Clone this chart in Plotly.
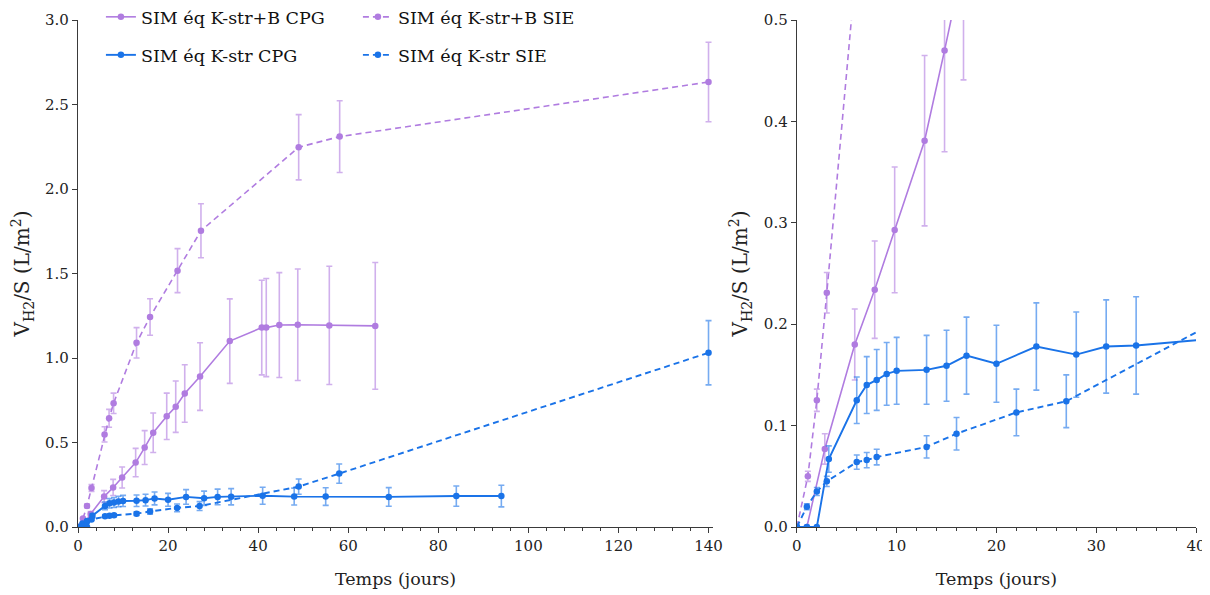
import plotly.graph_objects as go

# ---------------- data ----------------
# SIM éq K-str+B CPG (purple, solid)
kb_cpg_days = [0, 1, 2.8, 5.8, 7.8, 9.8, 12.8, 14.8, 16.7, 19.7, 21.7, 23.7, 27.1, 33.7, 40.8, 41.8, 44.7, 48.8, 55.8, 66.0]
kb_cpg_vals = [0, 0, 0.077, 0.18, 0.234, 0.293, 0.381, 0.47, 0.558, 0.655, 0.712, 0.79, 0.89, 1.10, 1.18, 1.18, 1.195, 1.197, 1.193, 1.19]
kb_cpg_err = [0, 0, 0.015, 0.035, 0.048, 0.062, 0.084, 0.10, 0.117, 0.137, 0.152, 0.17, 0.20, 0.25, 0.28, 0.29, 0.31, 0.33, 0.35, 0.375]

# SIM éq K-str+B SIE (purple, dashed)
kb_sie_days = [0, 1.1, 2.0, 3.0, 5.9, 6.9, 7.9, 13.0, 16.0, 22.1, 27.3, 49.0, 58.1, 140]
kb_sie_vals = [0, 0.05, 0.125, 0.231, 0.548, 0.643, 0.732, 1.09, 1.243, 1.517, 1.753, 2.247, 2.31, 2.633]
kb_sie_err = [0, 0.005, 0.011, 0.02, 0.045, 0.053, 0.06, 0.09, 0.108, 0.13, 0.16, 0.193, 0.212, 0.235]

# SIM éq K-str CPG (blue, solid)
k_cpg_days = [0, 1, 2, 3.2, 6, 7, 8, 9, 10, 13, 15, 17, 20, 24, 28, 31, 34, 41, 48, 55, 69, 84, 94]
k_cpg_vals = [0, 0, 0, 0.067, 0.125, 0.14, 0.145, 0.151, 0.154, 0.155, 0.159, 0.169, 0.161, 0.178, 0.170, 0.178, 0.179, 0.185, 0.18, 0.18, 0.178, 0.183, 0.183]
k_cpg_err = [0, 0, 0, 0.013, 0.023, 0.028, 0.03, 0.031, 0.033, 0.034, 0.035, 0.038, 0.038, 0.043, 0.042, 0.046, 0.048, 0.05, 0.05, 0.052, 0.055, 0.06, 0.064]

# SIM éq K-str SIE (blue, dashed)
k_sie_days = [0, 1, 2, 3, 6, 7, 8, 13, 16, 22, 27, 49, 58, 140]
k_sie_vals = [0, 0.02, 0.035, 0.045, 0.064, 0.066, 0.069, 0.079, 0.092, 0.113, 0.124, 0.239, 0.316, 1.031]
k_sie_err = [0, 0.003, 0.004, 0.005, 0.007, 0.0075, 0.0077, 0.011, 0.016, 0.023, 0.026, 0.045, 0.057, 0.19]

series_names = ["SIM éq K-str+B CPG", "SIM éq K-str+B SIE", "SIM éq K-str CPG", "SIM éq K-str SIE"]

left_x_ticks = [0, 20, 40, 60, 80, 100, 120, 140]
left_y_ticks = [0.0, 0.5, 1.0, 1.5, 2.0, 2.5, 3.0]
right_x_ticks = [0, 10, 20, 30, 40]
right_y_ticks = [0.0, 0.1, 0.2, 0.3, 0.4, 0.5]

# ---------------- style ----------------
PURPLE = "#b07ce0"
PURPLE_ERR = "rgba(176,124,224,0.6)"
BLUE = "#1a73e8"
BLUE_ERR = "rgba(26,115,232,0.6)"
FONT = "DejaVu Serif"
AX = "#3a3a3a"

series = [
    (series_names[0], kb_cpg_days, kb_cpg_vals, kb_cpg_err, PURPLE, PURPLE_ERR, "solid", 1.6, "legend"),
    (series_names[1], kb_sie_days, kb_sie_vals, kb_sie_err, PURPLE, PURPLE_ERR, "dash", 1.6, "legend"),
    (series_names[2], k_cpg_days, k_cpg_vals, k_cpg_err, BLUE, BLUE_ERR, "solid", 1.9, "legend2"),
    (series_names[3], k_sie_days, k_sie_vals, k_sie_err, BLUE, BLUE_ERR, "dash", 1.9, "legend2"),
]

fig = go.Figure()
for xa, ya, show in [("x", "y", True), ("x2", "y2", False)]:
    for name, d, v, e, col, ecol, dash, w, lg in series:
        fig.add_trace(go.Scatter(
            x=d, y=v, name=name, mode="lines+markers",
            line=dict(color=col, width=w, dash="6px,4px" if dash == "dash" else "solid"),
            marker=dict(color=col, size=6.5),
            error_y=dict(type="data", array=e, visible=True, color=ecol, thickness=1.6, width=3),
            xaxis=xa, yaxis=ya, showlegend=show, legend=lg,
        ))

axis_common = dict(
    showline=True, linecolor=AX, linewidth=1.3, showgrid=False, zeroline=False,
    ticks="outside", tickcolor=AX, ticklen=5, tickwidth=1.2, automargin=False,
    tickfont=dict(family=FONT, size=15, color="#222"),
)
ytitle = "V<sub>H2</sub>/S (L/m<sup>2</sup>)"
xtitle = "Temps (jours)"
XT = dict(family=FONT, size=17.5, color="#222")
YT = dict(family=FONT, size=20, color="#222")

# page body adds an 8px offset: figure is 1202x587 with margins compensated
fig.update_layout(
    width=1202, height=587,
    margin=dict(l=70, r=14, t=12, b=68, autoexpand=False),
    paper_bgcolor="white", plot_bgcolor="white",
    font=dict(family=FONT, color="#222"),
    xaxis=dict(domain=[0, 0.568], range=[0, 141], tickvals=left_x_ticks,
               minor=dict(dtick=4, ticks="outside", ticklen=3, tickcolor=AX),
               title=dict(text=xtitle, font=XT, standoff=18),
               anchor="y", **axis_common),
    yaxis=dict(domain=[0, 1], range=[0, 3], tickvals=left_y_ticks, tickformat=".1f",
               title=dict(text=ytitle, font=YT, standoff=10),
               anchor="x", **axis_common),
    xaxis2=dict(domain=[0.643, 1], range=[0, 40], tickvals=right_x_ticks,
                minor=dict(dtick=2, ticks="outside", ticklen=3, tickcolor=AX),
                title=dict(text=xtitle, font=XT, standoff=18),
                anchor="y2", **axis_common),
    yaxis2=dict(domain=[0, 1], range=[0, 0.5], tickvals=right_y_ticks, tickformat=".1f",
                title=dict(text=ytitle, font=YT, standoff=10),
                anchor="x2", **axis_common),
    legend=dict(orientation="h", x=0.0205, xanchor="left", y=1.006, yanchor="middle",
                entrywidth=212, font=dict(family=FONT, size=17.5, color="#111"),
                bgcolor="rgba(0,0,0,0)"),
    legend2=dict(orientation="h", x=0.0205, xanchor="left", y=0.931, yanchor="middle",
                 entrywidth=212, font=dict(family=FONT, size=17.5, color="#111"),
                 bgcolor="rgba(0,0,0,0)"),
)

fig.write_html("out.html")
